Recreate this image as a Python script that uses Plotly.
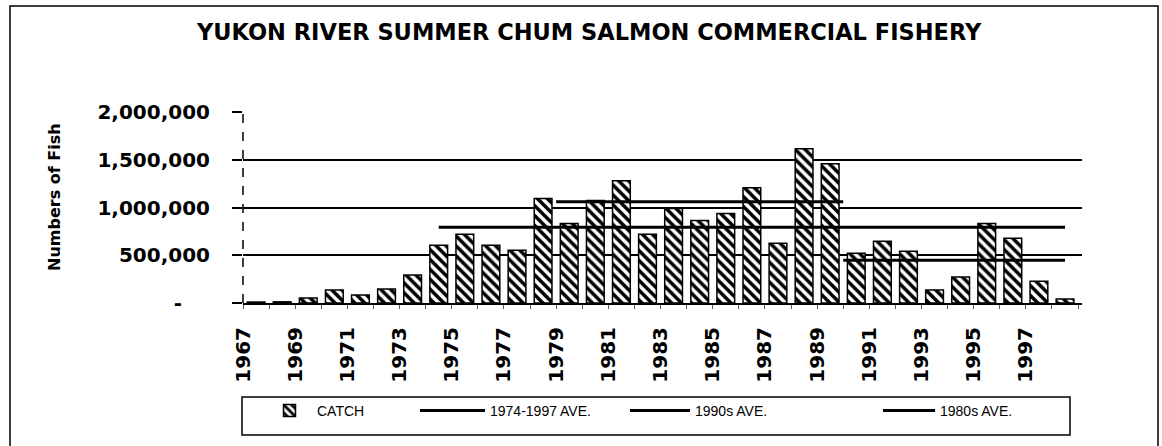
import plotly.graph_objects as go

# ---- data ----
years = list(range(1967, 1999))
catch = [10000, 12000, 52000, 135000, 83000, 146000, 292000, 604000, 719000, 604000,
         552000, 1094000, 833000, 1073000, 1281000, 719000, 990000, 865000, 937000, 1208000,
         625000, 1615000, 1458000, 521000, 646000, 542000, 135000, 271000, 833000, 677000,
         229000, 42000]

avg_names = ["1974-1997 AVE.", "1990s AVE.", "1980s AVE."]
avg_values = [792000, 448000, 1060000]
avg_start = [1974, 1989.5, 1978.5]
avg_end = [1998, 1998, 1989.5]

label_years = list(range(1967, 1998, 2))
y_ticks = [0, 500000, 1000000, 1500000, 2000000]
y_tick_text = ["-\u00a0\u00a0\u00a0\u00a0", "500,000", "1,000,000", "1,500,000", "2,000,000"]

title = "YUKON RIVER SUMMER CHUM SALMON COMMERCIAL FISHERY"
y_title = "Numbers of Fish"

L, R, T, B = 243, 80, 112, 143
W, H = 1162, 446
pw, ph = W - L - R, H - T - B

def px(xp):
    return (xp - L) / pw

def py(yp):
    return (H - B - yp) / ph

legend_font = dict(family="Liberation Sans", size=14, color="black")
# left pixel and symbol width for each legend entry (CATCH, 1974-1997, 1990s, 1980s)
legend_left = [262, 415, 625, 878]
legend_itemwidth = [45, 65, 60, 52]

fig = go.Figure()
fig.add_trace(go.Bar(
    x=years, y=catch, name="CATCH", width=0.68, legend="legend",
    marker=dict(color="white", line=dict(color="black", width=1.5),
                pattern=dict(shape="\\", fgcolor="black", bgcolor="white",
                             fgopacity=1, size=7, solidity=0.5)),
))
for i, (n, v, s, e) in enumerate(zip(avg_names, avg_values, avg_start, avg_end)):
    fig.add_trace(go.Scatter(x=[s, e], y=[v, v], name=n, mode="lines",
                             legend="legend%d" % (i + 2),
                             line=dict(color="black", width=3)))

legends = {}
for i, (xl, iw) in enumerate(zip(legend_left, legend_itemwidth)):
    key = "legend" if i == 0 else "legend%d" % (i + 1)
    legends[key] = dict(x=px(xl), y=py(411), xanchor="left", yanchor="middle",
                        bgcolor="rgba(0,0,0,0)", borderwidth=0,
                        font=legend_font, itemwidth=iw,
                        orientation="h")

fig.update_layout(
    width=W, height=H,
    margin=dict(l=L, r=R, t=T, b=B),
    paper_bgcolor="white", plot_bgcolor="white",
    showlegend=True,
    annotations=[
        dict(text=title, x=px(589), y=py(32), xref="paper", yref="paper",
             showarrow=False, xanchor="center", yanchor="middle",
             font=dict(family="DejaVu Sans", size=22.5, color="black", weight="bold")),
        dict(text=y_title, x=px(54), y=py(197), xref="paper", yref="paper",
             showarrow=False, textangle=-90, xanchor="center", yanchor="middle",
             font=dict(family="DejaVu Sans", size=16, color="black", weight="bold")),
    ],
    shapes=[
        dict(type="line", xref="paper", yref="paper", x0=0, x1=0, y0=0, y1=1,
             line=dict(color="black", width=1.5, dash="dash")),
        dict(type="rect", xref="paper", yref="paper", x0=px(10), x1=px(1158),
             y0=py(452), y1=py(6), line=dict(color="black", width=1.5)),
        dict(type="rect", xref="paper", yref="paper", x0=px(242), x1=px(1070),
             y0=py(435), y1=py(397), line=dict(color="black", width=1.5)),
    ],
    **legends,
)
fig.update_xaxes(
    range=[1966.5, 1998.65],
    tickmode="array", tickvals=[y - 0.5 for y in label_years],
    ticktext=[str(y) for y in label_years], tickangle=-90,
    tickfont=dict(family="DejaVu Sans", size=20, color="black", weight="bold"),
    ticks="", ticklabelstandoff=14,
    showline=True, linecolor="black", linewidth=2,
    showgrid=False, zeroline=False,
    minor=dict(ticks="outside", tick0=1966.5, dtick=1, ticklen=4, tickcolor="#555", tickwidth=1),
)
fig.update_yaxes(
    range=[0, 2000000],
    tickmode="array", tickvals=y_ticks, ticktext=y_tick_text,
    tickfont=dict(family="DejaVu Sans", size=20, color="black", weight="bold"),
    ticks="outside", ticklen=10, tickcolor="black", tickwidth=1.5,
    ticklabelstandoff=18,
    showgrid=True, gridcolor="black", gridwidth=1.5,
    showline=False, zeroline=False,
)

fig.write_html("out.html", config={"displayModeBar": False},
               post_script="document.body.style.margin='0';")
